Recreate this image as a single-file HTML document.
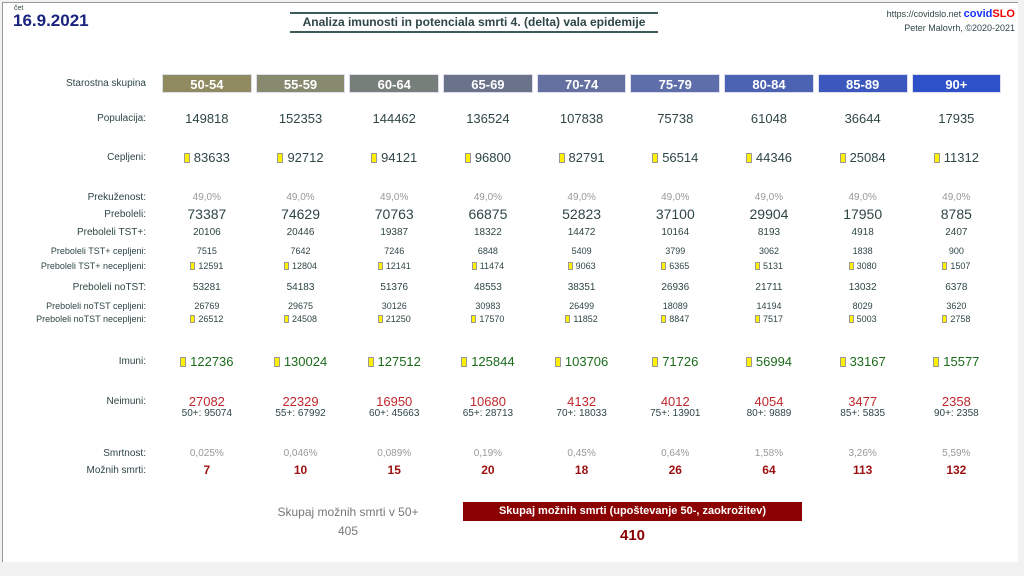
<!DOCTYPE html>
<html><head><meta charset="utf-8"><style>
*{margin:0;padding:0;box-sizing:border-box}
body{width:1024px;height:576px;background:#f2f2f2;font-family:"Liberation Sans",sans-serif;color:#2f4646;position:relative;overflow:hidden}
#pg{position:absolute;left:2px;top:2px;width:1016px;height:560px;background:#fff;border-left:1px solid #999;border-top:1px solid #999}
.r{position:absolute;left:0;width:1024px;display:flex;align-items:center;white-space:nowrap}
.l{width:148px;text-align:right;font-size:10px;padding-right:2px;flex:none}
.c{width:93.7px;text-align:center;flex:none}
.s{margin-left:12px}
.m{display:inline-block;width:6px;height:10px;background:#ffef00;border:1px solid #999;vertical-align:-1px;margin-right:4px}
.sm .m{width:5px;height:8px;margin-right:3px}
.h .c div{margin:0 2px;height:19px;line-height:19px;color:#fff;font-weight:bold;font-size:13px;border:1px solid #dde}
</style></head><body>
<div id="pg"></div>
<div style="position:absolute;left:14px;top:5px;font-size:7px">čet</div>
<div style="position:absolute;left:13px;top:11px;font-size:17px;font-weight:bold;color:#1a237e">16.9.2021</div>
<div style="position:absolute;left:290px;top:12px;width:368px;border-top:2px solid #3d5a5a;border-bottom:2px solid #3d5a5a;text-align:center;font-size:12px;font-weight:bold;color:#2f4646;line-height:17px">Analiza imunosti in potenciala smrti 4. (delta) vala epidemije</div>
<div style="position:absolute;right:9px;top:7px;font-size:9px;text-align:right;line-height:14px">https://covidslo.net <b style="color:#1530ff;font-size:11px">covid<span style="color:#e00">SLO</span></b><br>Peter Malovrh, ©2020-2021</div>

<div class="r h" style="top:74px"><div class="l">Starostna skupina</div>
<div class="c s"><div style="background:#8f8a5f">50-54</div></div><div class="c"><div style="background:#888a70">55-59</div></div><div class="c"><div style="background:#777f7b">60-64</div></div><div class="c"><div style="background:#6a7389">65-69</div></div><div class="c"><div style="background:#6470a0">70-74</div></div><div class="c"><div style="background:#5d6eaa">75-79</div></div><div class="c"><div style="background:#4c62b2">80-84</div></div><div class="c"><div style="background:#3c58bf">85-89</div></div><div class="c"><div style="background:#2e50c8">90+</div></div></div>

<div class="r" style="top:111px;font-size:13px"><div class="l">Populacija:</div><div class="c s">149818</div><div class="c">152353</div><div class="c">144462</div><div class="c">136524</div><div class="c">107838</div><div class="c">75738</div><div class="c">61048</div><div class="c">36644</div><div class="c">17935</div></div>

<div class="r" style="top:150px;font-size:13px"><div class="l">Cepljeni:</div><div class="c s"><i class="m"></i>83633</div><div class="c"><i class="m"></i>92712</div><div class="c"><i class="m"></i>94121</div><div class="c"><i class="m"></i>96800</div><div class="c"><i class="m"></i>82791</div><div class="c"><i class="m"></i>56514</div><div class="c"><i class="m"></i>44346</div><div class="c"><i class="m"></i>25084</div><div class="c"><i class="m"></i>11312</div></div>

<div class="r" style="top:192px;font-size:10px;color:#999"><div class="l" style="color:#2f4646">Prekuženost:</div><div class="c s">49,0%</div><div class="c">49,0%</div><div class="c">49,0%</div><div class="c">49,0%</div><div class="c">49,0%</div><div class="c">49,0%</div><div class="c">49,0%</div><div class="c">49,0%</div><div class="c">49,0%</div></div>

<div class="r" style="top:206px;font-size:14px"><div class="l">Preboleli:</div><div class="c s">73387</div><div class="c">74629</div><div class="c">70763</div><div class="c">66875</div><div class="c">52823</div><div class="c">37100</div><div class="c">29904</div><div class="c">17950</div><div class="c">8785</div></div>

<div class="r" style="top:227px;font-size:10px"><div class="l">Preboleli TST+:</div><div class="c s">20106</div><div class="c">20446</div><div class="c">19387</div><div class="c">18322</div><div class="c">14472</div><div class="c">10164</div><div class="c">8193</div><div class="c">4918</div><div class="c">2407</div></div>

<div class="r" style="top:246px;font-size:9px"><div class="l" style="font-size:9px">Preboleli TST+ cepljeni:</div><div class="c s">7515</div><div class="c">7642</div><div class="c">7246</div><div class="c">6848</div><div class="c">5409</div><div class="c">3799</div><div class="c">3062</div><div class="c">1838</div><div class="c">900</div></div>

<div class="r sm" style="top:261px;font-size:9px"><div class="l" style="font-size:9px">Preboleli TST+ necepljeni:</div><div class="c s"><i class="m"></i>12591</div><div class="c"><i class="m"></i>12804</div><div class="c"><i class="m"></i>12141</div><div class="c"><i class="m"></i>11474</div><div class="c"><i class="m"></i>9063</div><div class="c"><i class="m"></i>6365</div><div class="c"><i class="m"></i>5131</div><div class="c"><i class="m"></i>3080</div><div class="c"><i class="m"></i>1507</div></div>

<div class="r" style="top:282px;font-size:10px"><div class="l">Preboleli noTST:</div><div class="c s">53281</div><div class="c">54183</div><div class="c">51376</div><div class="c">48553</div><div class="c">38351</div><div class="c">26936</div><div class="c">21711</div><div class="c">13032</div><div class="c">6378</div></div>

<div class="r" style="top:301px;font-size:9px"><div class="l" style="font-size:9px">Preboleli noTST cepljeni:</div><div class="c s">26769</div><div class="c">29675</div><div class="c">30126</div><div class="c">30983</div><div class="c">26499</div><div class="c">18089</div><div class="c">14194</div><div class="c">8029</div><div class="c">3620</div></div>

<div class="r sm" style="top:314px;font-size:9px"><div class="l" style="font-size:9px">Preboleli noTST necepljeni:</div><div class="c s"><i class="m"></i>26512</div><div class="c"><i class="m"></i>24508</div><div class="c"><i class="m"></i>21250</div><div class="c"><i class="m"></i>17570</div><div class="c"><i class="m"></i>11852</div><div class="c"><i class="m"></i>8847</div><div class="c"><i class="m"></i>7517</div><div class="c"><i class="m"></i>5003</div><div class="c"><i class="m"></i>2758</div></div>

<div class="r" style="top:354px;font-size:13px;color:#1b6b1b"><div class="l" style="color:#2f4646">Imuni:</div><div class="c s"><i class="m"></i>122736</div><div class="c"><i class="m"></i>130024</div><div class="c"><i class="m"></i>127512</div><div class="c"><i class="m"></i>125844</div><div class="c"><i class="m"></i>103706</div><div class="c"><i class="m"></i>71726</div><div class="c"><i class="m"></i>56994</div><div class="c"><i class="m"></i>33167</div><div class="c"><i class="m"></i>15577</div></div>

<div class="r" style="top:394px;font-size:13px;color:#c0282d"><div class="l" style="color:#2f4646">Neimuni:</div><div class="c s">27082</div><div class="c">22329</div><div class="c">16950</div><div class="c">10680</div><div class="c">4132</div><div class="c">4012</div><div class="c">4054</div><div class="c">3477</div><div class="c">2358</div></div>
<div class="r" style="top:408px;font-size:10px"><div class="l"></div><div class="c s">50+: 95074</div><div class="c">55+: 67992</div><div class="c">60+: 45663</div><div class="c">65+: 28713</div><div class="c">70+: 18033</div><div class="c">75+: 13901</div><div class="c">80+: 9889</div><div class="c">85+: 5835</div><div class="c">90+: 2358</div></div>

<div class="r" style="top:448px;font-size:10px;color:#999"><div class="l" style="color:#2f4646">Smrtnost:</div><div class="c s">0,025%</div><div class="c">0,046%</div><div class="c">0,089%</div><div class="c">0,19%</div><div class="c">0,45%</div><div class="c">0,64%</div><div class="c">1,58%</div><div class="c">3,26%</div><div class="c">5,59%</div></div>
<div class="r" style="top:463px;font-size:12px;color:#9b1010;font-weight:bold"><div class="l" style="color:#2f4646;font-weight:normal">Možnih smrti:</div><div class="c s">7</div><div class="c">10</div><div class="c">15</div><div class="c">20</div><div class="c">18</div><div class="c">26</div><div class="c">64</div><div class="c">113</div><div class="c">132</div></div>

<div style="position:absolute;left:258px;top:503px;width:180px;text-align:center;font-size:12px;color:#777;line-height:19px">Skupaj možnih smrti v 50+<br>405</div>
<div style="position:absolute;left:463px;top:502px;width:339px;height:19px;background:#8b0000;color:#fff;font-size:11px;font-weight:bold;text-align:center;line-height:19px">Skupaj možnih smrti (upoštevanje 50-, zaokrožitev)</div>
<div style="position:absolute;left:463px;top:527px;width:339px;text-align:center;font-size:15px;font-weight:bold;color:#8b0000">410</div>
</body></html>
